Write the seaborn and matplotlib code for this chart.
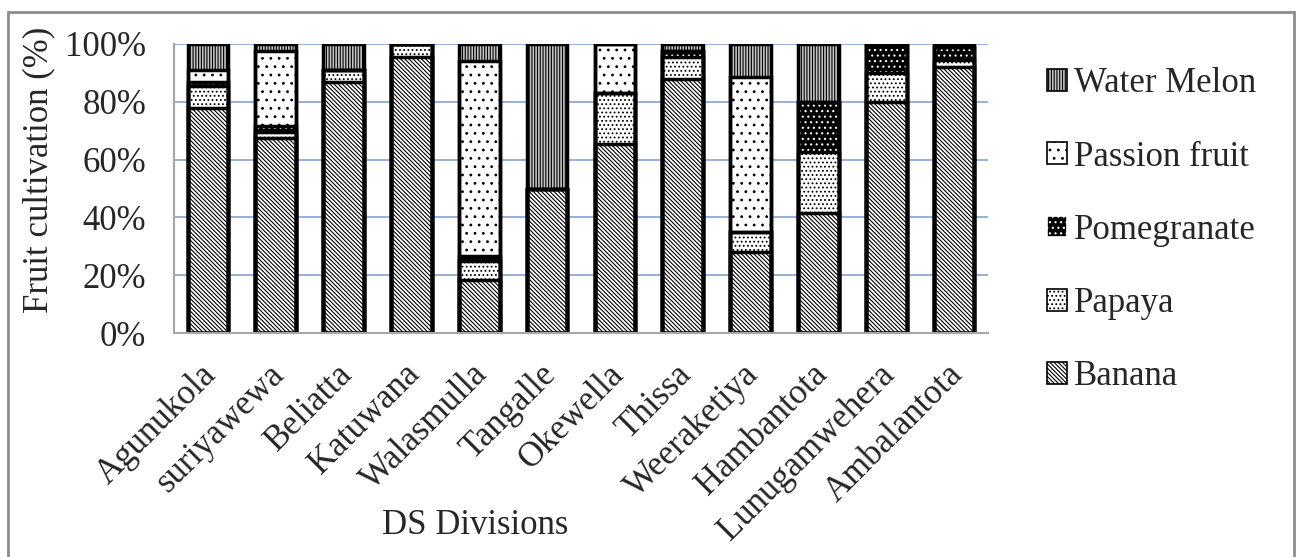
import matplotlib
matplotlib.use("Agg")
import matplotlib.pyplot as plt
from matplotlib.patches import Patch, Rectangle
from matplotlib.transforms import ScaledTranslation
import seaborn as sns
import pandas as pd
import numpy as np

divisions = ['Agunukola', 'suriyawewa', 'Beliatta', 'Katuwana', 'Walasmulla', 'Tangalle',
             'Okewella', 'Thissa', 'Weeraketiya', 'Hambantota', 'Lunugamwehera', 'Ambalantota']
banana = [78, 67.5, 87, 95.5, 18.5, 50, 65.5, 88, 28, 41.5, 80, 92]
papaya = [7.5, 2, 4, 4.5, 6.5, 0, 17.5, 7.5, 7, 21, 10, 2.5]
pomegranate = [1.5, 2, 0, 0, 1.5, 0, 0, 2, 0, 17.5, 10, 4.5]
passion_fruit = [4, 26, 0, 0, 67.5, 0, 17, 0, 53.5, 0, 0, 0]
water_melon = [9, 2.5, 9, 0, 6, 50, 0, 2.5, 11.5, 20, 0, 1]

fruits = ['Banana', 'Papaya', 'Pomegranate', 'Passion fruit', 'Water Melon']
series = [banana, papaya, pomegranate, passion_fruit, water_melon]

sns.set_theme(style="white")
plt.rcParams['font.family'] = ['Liberation Serif', 'DejaVu Serif']
plt.rcParams['hatch.linewidth'] = 0.8

styles = {
    'Banana': dict(color='white', hatch='\\\\\\\\\\\\\\\\', edgecolor='black'),
    'Papaya': dict(color='white', hatch='....', edgecolor='black'),
    'Pomegranate': dict(color='black', hatch='...', edgecolor='white'),
    'Passion fruit': dict(color='white', hatch='..', edgecolor='black'),
    'Water Melon': dict(color='#c4c4c4', hatch='||||||', edgecolor='black'),
}

FS = 25

cum = np.cumsum(np.array(series), axis=0)
rows = []
for fi, f in enumerate(fruits):
    for di, d in enumerate(divisions):
        rows.append(dict(Division=d, Fruit=f, cum=cum[fi, di]))
df = pd.DataFrame(rows)

fig = plt.figure(figsize=(13.01, 5.57), dpi=100)
ax = fig.add_axes([174/1301, 1-333/557, (988-174)/1301, (333-44)/557])

for f in reversed(fruits):
    st = styles[f]
    sns.barplot(data=df[df.Fruit == f], x='Division', y='cum', order=divisions,
                color=st['color'], saturation=1, hatch=st['hatch'],
                edgecolor=st['edgecolor'], linewidth=0, width=0.6, ax=ax,
                errorbar=None)
for f in reversed(fruits):
    sns.barplot(data=df[df.Fruit == f], x='Division', y='cum', order=divisions,
                color='black', fill=False, linewidth=2.5, width=0.6, ax=ax,
                errorbar=None)

ax.set_ylim(0, 100)
ax.set_xlim(-0.5, len(divisions) - 0.5)
ax.set_yticks([0, 20, 40, 60, 80, 100])
ax.set_yticklabels([f"{v}%" for v in [0, 20, 40, 60, 80, 100]], fontsize=FS)
ax.yaxis.grid(True, color='#8eaad8', linewidth=1.3)
ax.set_axisbelow(True)
for s in ['top', 'right']:
    ax.spines[s].set_visible(False)
for s in ['left', 'bottom']:
    ax.spines[s].set_color('#a6a6a6')
    ax.spines[s].set_linewidth(1.5)
ax.tick_params(axis='both', length=0)
ax.tick_params(axis='y', pad=20)
ax.tick_params(axis='x', pad=18)
shift = ScaledTranslation(-8/100, 0, fig.dpi_scale_trans)
for lbl in ax.get_xticklabels():
    lbl.set_rotation(45)
    lbl.set_ha('right')
    lbl.set_rotation_mode('anchor')
    lbl.set_fontsize(FS)
    lbl.set_transform(lbl.get_transform() + shift)

ax.set_xlabel('DS Divisions', fontsize=FS, va='top')
ax.xaxis.set_label_coords(0.37, -0.61)
ax.set_ylabel('Fruit cultivation (%)', fontsize=FS)
ax.yaxis.set_label_coords(-0.146, 0.564)

handles = [Patch(facecolor=styles[f]['color'], hatch=styles[f]['hatch'],
                 edgecolor='black' if f != 'Pomegranate' else 'white', linewidth=1.2)
           for f in reversed(fruits)]
fig.legend(handles, list(reversed(fruits)), loc='upper left',
           bbox_to_anchor=(1016/1301, 1-36/557), frameon=False, fontsize=FS,
           handlelength=0.58, handleheight=0.58, handletextpad=0.2, labelspacing=1.16)

fig.patches.append(Rectangle((8/1301, -0.02), (1294-8)/1301, 0.02 + 1 - 12/557,
                             transform=fig.transFigure, fill=False,
                             edgecolor='#8c8c8c', linewidth=2))

fig.savefig('out.png', dpi=100)
